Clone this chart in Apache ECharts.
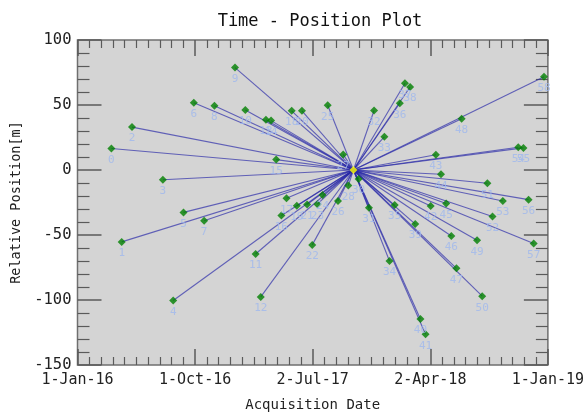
<!DOCTYPE html>
<html>
<head>
<meta charset="utf-8">
<script src="https://cdn.jsdelivr.net/npm/echarts@6/dist/echarts.min.js"></script>
<style>
html,body{margin:0;padding:0;background:#fff;}
#c{width:587px;height:417px;}
</style>
</head>
<body>
<div id="c"></div>
<script>
// ---- data ----
const acquisitionDates = [
 '2016-03-20','2016-04-13','2016-05-07','2016-07-18','2016-08-11','2016-09-04','2016-09-28','2016-10-22','2016-11-15','2017-01-02',
 '2017-01-26','2017-02-19','2017-03-03','2017-03-15','2017-03-27','2017-04-08','2017-04-20','2017-05-02','2017-05-14','2017-05-26',
 '2017-06-07','2017-06-19','2017-07-01','2017-07-13','2017-07-25','2017-08-06','2017-08-30','2017-09-11','2017-09-23','2017-10-05',
 '2017-10-17','2017-11-10','2017-11-22','2017-12-16','2017-12-28','2018-01-09','2018-01-21','2018-02-02','2018-02-14','2018-02-26',
 '2018-03-10','2018-03-22','2018-04-03','2018-04-15','2018-04-27','2018-05-09','2018-05-21','2018-06-02','2018-06-14','2018-07-20',
 '2018-08-01','2018-08-13','2018-08-25','2018-09-18','2018-10-24','2018-11-05','2018-11-17','2018-11-29','2018-12-23'
];
const relativePositions = [
 16.5,-55.3,33,-7.5,-100.4,-32.6,51.8,-39,49.5,78.8,
 46.2,-64.6,-97.6,38.7,38,8,-35,-21.8,45.5,-27.5,
 45.5,-26.5,-57.6,-26.3,-19.3,49.8,-23.8,12,-12,0,
 -7,-29,45.8,25.5,-70,-27,51.3,66.8,63.8,-41.6,
 -114.6,-126.4,-27.6,11.7,-3.3,-25.8,-50.8,-75.6,39.5,-54,
 -97.1,-10.2,-35.8,-23.8,17.5,17,-22.8,-56.6,71.8
];
const referenceIndex = 29;
const xTickLabels = ['1-Jan-16','1-Oct-16','2-Jul-17','2-Apr-18','1-Jan-19'];
const axisStartDate = '2016-01-01';
const xSpanDays = 1096, xStepDays = 274;
const yMin = -150, yMax = 100, yStep = 50;

// ---- helpers ----
const DAY = 86400000;
const t0 = Date.parse(axisStartDate + 'T00:00:00Z');
const toDays = s => Math.round((Date.parse(s + 'T00:00:00Z') - t0) / DAY);

const pts = acquisitionDates.map((d, i) => ({ id: i, x: toDays(d), y: relativePositions[i] }));
const ref = pts[referenceIndex];
const others = pts.filter(p => p.id !== referenceIndex);

const FONT = "'DejaVu Sans Mono','Liberation Mono',monospace";
const tickColor = '#5a5a5a';

const chart = echarts.init(document.getElementById('c'), null, { renderer: 'canvas' });

const xBase = {
  type: 'value', min: 0, max: xSpanDays, interval: xStepDays,
  splitLine: { show: false },
  axisLine: { show: false, onZero: false },
  axisTick: { show: true, inside: true, length: 16, lineStyle: { color: tickColor, width: 1.5 } },
  minorTick: { show: true, splitNumber: 10, length: 8, lineStyle: { color: tickColor, width: 1.2 } },
  minorSplitLine: { show: false }
};
const yBase = {
  type: 'value', min: yMin, max: yMax, interval: yStep,
  splitLine: { show: false },
  axisLine: { show: false, onZero: false },
  axisTick: { show: true, inside: true, length: 24, lineStyle: { color: tickColor, width: 1.5 } },
  minorTick: { show: true, splitNumber: 5, length: 12, lineStyle: { color: tickColor, width: 1.2 } },
  minorSplitLine: { show: false }
};

chart.setOption({
  animation: false,
  backgroundColor: '#ffffff',
  title: {
    text: 'Time - Position Plot', left: 315, top: 8, textAlign: 'center',
    textStyle: { fontFamily: FONT, fontSize: 17, fontWeight: 'normal', color: '#111' }
  },
  grid: {
    left: 77.5, right: 33.5, top: 40, bottom: 43.5,
    show: true, backgroundColor: '#d4d4d4', borderColor: '#6f6f6f', borderWidth: 1.5
  },
  xAxis: [
    Object.assign({}, xBase, {
      position: 'bottom',
      name: 'Acquisition Date', nameLocation: 'middle', nameGap: 33,
      nameTextStyle: { fontFamily: FONT, fontSize: 14, color: '#222' },
      axisLabel: {
        show: true, margin: 8, fontFamily: FONT, fontSize: 15, color: '#222',
        formatter: v => xTickLabels[Math.round(v / xStepDays)] || ''
      }
    }),
    Object.assign({}, xBase, { position: 'top', axisLabel: { show: false } })
  ],
  yAxis: [
    Object.assign({}, yBase, {
      position: 'left',
      name: 'Relative Position[m]', nameLocation: 'middle', nameGap: 52,
      nameTextStyle: { fontFamily: FONT, fontSize: 13.5, color: '#222' },
      axisLabel: { show: true, margin: 6, fontFamily: FONT, fontSize: 15.5, color: '#222' }
    }),
    Object.assign({}, yBase, { position: 'right', axisLabel: { show: false } })
  ],
  series: [
    {
      type: 'lines', coordinateSystem: 'cartesian2d', xAxisIndex: 0, yAxisIndex: 0,
      silent: true,
      lineStyle: { color: '#2828a8', width: 1.1, opacity: 0.68, curveness: 0 },
      data: others.map(p => ({ coords: [[ref.x, ref.y], [p.x, p.y]] })),
      z: 2
    },
    {
      type: 'scatter', xAxisIndex: 0, yAxisIndex: 0,
      symbol: 'diamond', symbolSize: 8,
      itemStyle: { color: '#008000' },
      label: {
        show: true, position: 'bottom', distance: 2,
        fontFamily: FONT, fontSize: 11, color: '#9fb8ee',
        formatter: p => String(p.data[2])
      },
      labelLayout: { hideOverlap: false },
      data: others.map(p => [p.x, p.y, p.id]),
      z: 3
    },
    {
      type: 'scatter', xAxisIndex: 0, yAxisIndex: 0,
      symbol: 'diamond', symbolSize: 8,
      itemStyle: { color: '#ffff00' },
      data: [[ref.x, ref.y, ref.id]],
      z: 4
    }
  ]
});
</script>
</body>
</html>
